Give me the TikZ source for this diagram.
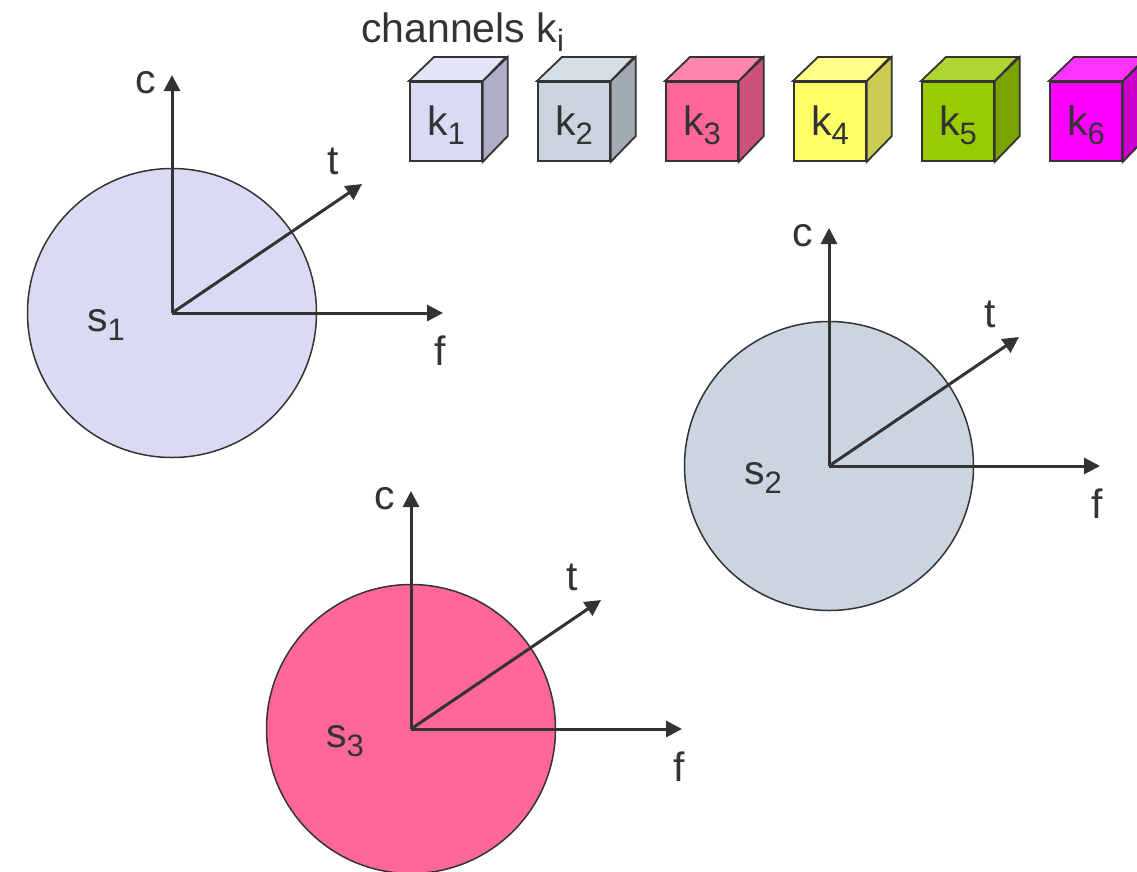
\documentclass[tikz,border=0pt]{standalone}
\usepackage{fontspec}
\setmainfont{Liberation Sans}
\usetikzlibrary{arrows.meta}
\definecolor{ink}{HTML}{333333}
\definecolor{f1}{RGB}{218,218,245}\definecolor{s1c}{RGB}{174,174,200}\definecolor{t1c}{RGB}{228,228,248}
\definecolor{f2}{RGB}{203,213,224}\definecolor{s2c}{RGB}{163,170,179}\definecolor{t2c}{RGB}{213,221,230}
\definecolor{f3}{RGB}{255,102,153}\definecolor{s3c}{RGB}{204,82,122}\definecolor{t3c}{RGB}{255,133,173}
\definecolor{f4}{RGB}{255,255,102}\definecolor{s4c}{RGB}{204,204,82}\definecolor{t4c}{RGB}{255,255,133}
\definecolor{f5}{RGB}{153,204,0}\definecolor{s5c}{RGB}{122,163,0}\definecolor{t5c}{RGB}{173,214,51}
\definecolor{f6}{RGB}{255,0,255}\definecolor{s6c}{RGB}{204,0,204}\definecolor{t6c}{RGB}{255,51,255}
\newcommand\mysub[1]{\raisebox{-9.5pt}{\fontsize{31}{31}\selectfont #1}}
\begin{document}
\begin{tikzpicture}[x=1pt,y=-1pt,
  lab/.style={inner sep=0pt,text=ink,font=\fontsize{41}{41}\selectfont},
  disc/.style={circle,draw=ink,line width=1.5pt,minimum size=289pt,inner sep=0pt},
  axis/.style={draw=ink,line width=3pt,-{Triangle[length=16pt,width=16pt]}},
  face/.style={draw=ink,line width=1.8pt,line join=miter},
  cube/.style={face,rectangle,minimum width=72pt,minimum height=79pt,inner sep=0pt,text=ink,font=\fontsize{41}{41}\selectfont}]
\useasboundingbox (0,0) rectangle (1137,871);

% title
\node[inner sep=0pt,text=ink,font=\fontsize{41}{41}\selectfont,anchor=base west] (title) at (361,42) {channels k\mysub{i}};

% cubes
\foreach \i/\x in {1/409,2/537,3/665,4/793,5/921,6/1049}{
  \node[cube,fill=f\i,anchor=north west] (k\i) at (\x,81) {};
  \node[lab,anchor=base] (k\i lab) at ([shift={(0,-2)}]k\i.south |- 0,137) {k\mysub{\i}};
  \filldraw[face,fill=t\i c] (k\i.north west) -- ++(25,-24) -- ++(72,0) -- (k\i.north east) -- cycle;
  \filldraw[face,fill=s\i c] (k\i.north east) -- ++(25,-24) -- ++(0,79) -- (k\i.south east) -- cycle;
}

% coordinate systems
\foreach \n/\x/\y/\c in {1/172/313/f1,2/829/466/f2,3/411/729/f3}{
  \node[disc,fill=\c] (s\n) at (\x,\y) {};
  \path (s\n.center) ++(0,-238) coordinate (s\n ctip)
        (s\n.center) ++(190,-129) coordinate (s\n ttip)
        (s\n.center) ++(271,0) coordinate (s\n ftip);
  \draw[axis] (s\n.center) -- (s\n ctip);
  \draw[axis] (s\n.center) -- (s\n ttip);
  \draw[axis] (s\n.center) -- (s\n ftip);
  \node[lab,anchor=base west] (s\n clab) at ([shift={(-37,-220)}]s\n.center) {c};
  \node[lab,anchor=base west] (s\n tlab) at ([shift={(155,-139)}]s\n.center) {t};
  \node[lab,anchor=base west] (s\n flab) at ([shift={(262,52)}]s\n.center) {f};
  \node[lab,anchor=base west] (s\n lab) at ([shift={(-85,18)}]s\n.center) {s\mysub{\n}};
}
\end{tikzpicture}
\end{document}
